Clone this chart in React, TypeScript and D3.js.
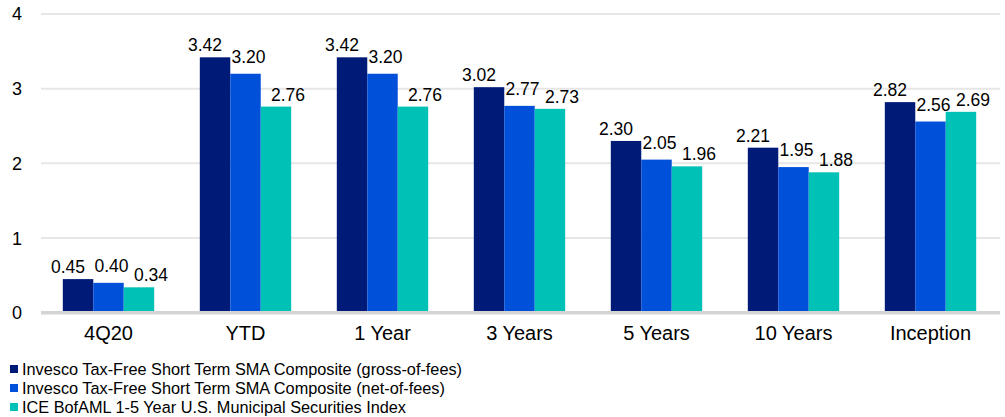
import React from "react";
import * as d3 from "d3";

const categories = ["4Q20", "YTD", "1 Year", "3 Years", "5 Years", "10 Years", "Inception"];
const seriesNames = [
  "Invesco Tax-Free Short Term SMA Composite (gross-of-fees)",
  "Invesco Tax-Free Short Term SMA Composite (net-of-fees)",
  "ICE BofAML 1-5 Year U.S. Municipal Securities Index",
];
const gross = [0.45, 3.42, 3.42, 3.02, 2.3, 2.21, 2.82];
const net = [0.4, 3.2, 3.2, 2.77, 2.05, 1.95, 2.56];
const index = [0.34, 2.76, 2.76, 2.73, 1.96, 1.88, 2.69];
const yTicks = [0, 1, 2, 3, 4];

const colors = ["#001a78", "#0050da", "#00c1b5"];
const labelDx = [-10, 3, 12];
const labelDy = [-6, -11, -6];

export default function App() {
  const W = 1005, H = 417;
  const series = [gross, net, index];
  const x = d3.scaleBand<string>().domain(categories).range([40, 999]).paddingInner(0).paddingOuter(0);
  const inner = d3.scaleBand<number>().domain([0, 1, 2]).range([0, x.bandwidth() * 0.667]);
  const groupOff = (x.bandwidth() - x.bandwidth() * 0.667) / 2;
  const y = d3.scaleLinear().domain([0, 4]).range([312.7, 14]);
  const font = "'Liberation Sans', Arial, sans-serif";
  const fmt = d3.format(".2f");

  return (
    <svg width={W} height={H} style={{ position: "absolute", left: 0, top: 0, background: "#fff" }} fontFamily={font}>
      {yTicks.filter((t) => t > 0).map((t) => (
        <line key={t} x1={41} x2={1000} y1={y(t)} y2={y(t)} stroke="#e6e6e6" strokeWidth={2} />
      ))}
      {yTicks.map((t) => (
        <text key={t} x={22} y={y(t)} dy="0.36em" textAnchor="end" fontSize={18} fill="#000">
          {t}
        </text>
      ))}
      {categories.map((c, i) => (
        <g key={c}>
          {series.map((s, k) => {
            const bx = (x(c) as number) + groupOff + (inner(k) as number);
            const bw = inner.bandwidth();
            return (
              <g key={k}>
                <rect x={bx} y={y(s[i])} width={bw} height={y(0) - y(s[i])} fill={colors[k]} />
                <text
                  x={bx + bw / 2 + labelDx[k]}
                  y={y(s[i]) + labelDy[k]}
                  textAnchor="middle"
                  fontSize={17.5}
                  fill="#000"
                >
                  {fmt(s[i])}
                </text>
              </g>
            );
          })}
          <text x={(x(c) as number) + x.bandwidth() / 2} y={339.5} textAnchor="middle" fontSize={20} fill="#000">
            {c}
          </text>
        </g>
      ))}
      <line x1={41} x2={1000} y1={y(0)} y2={y(0)} stroke="#d4d4d4" strokeWidth={3.5} />
      {seriesNames.map((n, k) => (
        <g key={n} transform={`translate(0, ${369 + k * 19})`}>
          <rect x={10} y={-4} width={8} height={8} fill={colors[k]} />
          <text x={22} y={0} dy="0.36em" fontSize={16.3} fill="#000">
            {n}
          </text>
        </g>
      ))}
    </svg>
  );
}
